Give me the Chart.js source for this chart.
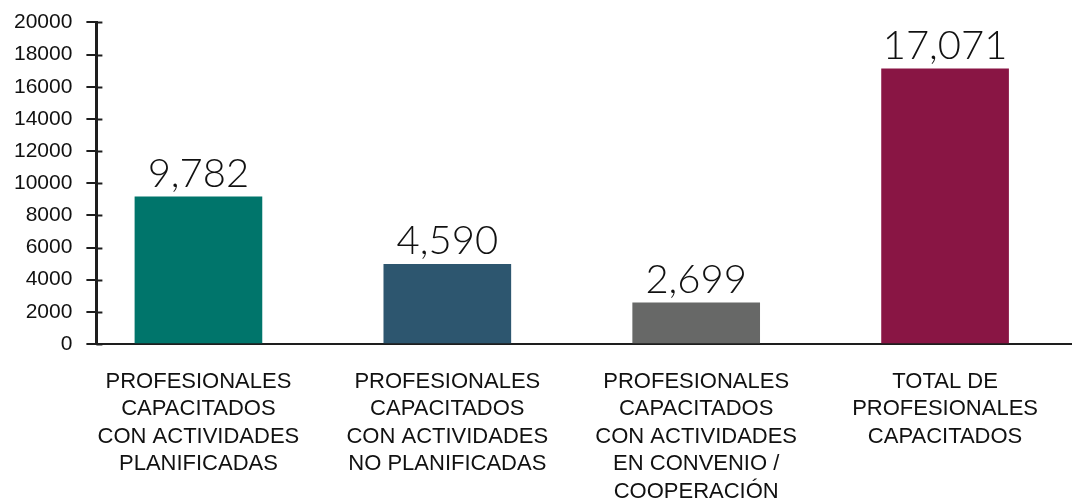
<!DOCTYPE html>
<html>
<head>
<meta charset="utf-8">
<script src="https://cdn.jsdelivr.net/npm/chart.js@4"></script>
<style>
  html, body { margin: 0; padding: 0; background: #fff; }
  #wrap { width: 1072px; height: 503px; }
</style>
</head>
<body>
<div id="wrap"><canvas id="myChart"></canvas></div>
<script>
// categories, one line per array item
const categories = [
    ["PROFESIONALES", "CAPACITADOS", "CON ACTIVIDADES", "PLANIFICADAS"],
    ["PROFESIONALES", "CAPACITADOS", "CON ACTIVIDADES", "NO PLANIFICADAS"],
    ["PROFESIONALES", "CAPACITADOS", "CON ACTIVIDADES", "EN CONVENIO /", "COOPERACIÓN"],
    ["TOTAL DE", "PROFESIONALES", "CAPACITADOS"]
];
// bar heights as drawn in the picture
const barValues = [9160, 4950, 2560, 17110];
// labels printed above the bars
const valueLabels = ["9,782", "4,590", "2,699", "17,071"];
const barColors = ["#00756B", "#2D566F", "#676867", "#891544"];
const yTicks = [0, 2000, 4000, 6000, 8000, 10000, 12000, 14000, 16000, 18000, 20000];

const axisColor = "#1e1e1e";

// value labels on top of each bar + inner half of the y tick marks
const extras = {
    id: 'extras',
    afterDatasetsDraw(chart) {
        const ctx = chart.ctx;
        const meta = chart.getDatasetMeta(0);
        ctx.save();
        ctx.fillStyle = "#111";
        ctx.font = "300 40px Lato, 'DejaVu Sans', sans-serif";
        ctx.textAlign = "center";
        ctx.textBaseline = "alphabetic";
        meta.data.forEach((bar, i) => {
            ctx.fillText(valueLabels[i], bar.x, bar.y - 10);
        });
        const y = chart.scales.y;
        ctx.strokeStyle = axisColor;
        ctx.lineWidth = 2;
        y.ticks.forEach(t => {
            const py = Math.round(y.getPixelForValue(t.value)) + 0.5;
            ctx.beginPath();
            ctx.moveTo(y.right, py);
            ctx.lineTo(y.right + 6, py);
            ctx.stroke();
        });
        ctx.restore();
    }
};

document.addEventListener('DOMContentLoaded', function() {
    const ctx = document.getElementById('myChart').getContext('2d');

    new Chart(ctx, {
        type: 'bar',
        data: {
            datasets: [{
                data: barValues.map((v, i) => ({ x: i, y: v })),
                backgroundColor: barColors,
                borderWidth: 0,
                barThickness: 127
            }]
        },
        options: {
            responsive: true,
            maintainAspectRatio: false,
            animation: false,
            layout: { padding: { top: 8, left: 0, right: 0, bottom: 0 } },
            plugins: {
                legend: { display: false },
                tooltip: { enabled: false }
            },
            scales: {
                x: {
                    type: 'linear',
                    offset: false,
                    min: -0.41,
                    max: 3.51,
                    afterBuildTicks: function(scale) {
                        scale.ticks = categories.map((c, i) => ({ value: i }));
                    },
                    afterFit: function(scale) {
                        scale.height = 159;
                    },
                    grid: { display: false, drawTicks: false },
                    border: { color: axisColor, width: 2 },
                    ticks: {
                        autoSkip: false,
                        maxRotation: 0,
                        padding: 24,
                        color: "#111",
                        font: { family: "'Liberation Sans', Arial, sans-serif", size: 22, lineHeight: 1.25 },
                        callback: function(value) {
                            return categories[value];
                        }
                    }
                },
                y: {
                    min: 0,
                    max: 20000,
                    afterBuildTicks: function(scale) {
                        scale.ticks = yTicks.map(v => ({ value: v }));
                    },
                    grid: { drawOnChartArea: false, tickLength: 10, color: axisColor, lineWidth: 2 },
                    border: { color: axisColor, width: 3 },
                    ticks: {
                        padding: 14,
                        color: "#111",
                        font: { family: "'Liberation Sans', Arial, sans-serif", size: 21, lineHeight: 0.8 },
                        callback: v => String(v)
                    }
                }
            }
        },
        plugins: [extras]
    });
});
</script>
</body>
</html>
